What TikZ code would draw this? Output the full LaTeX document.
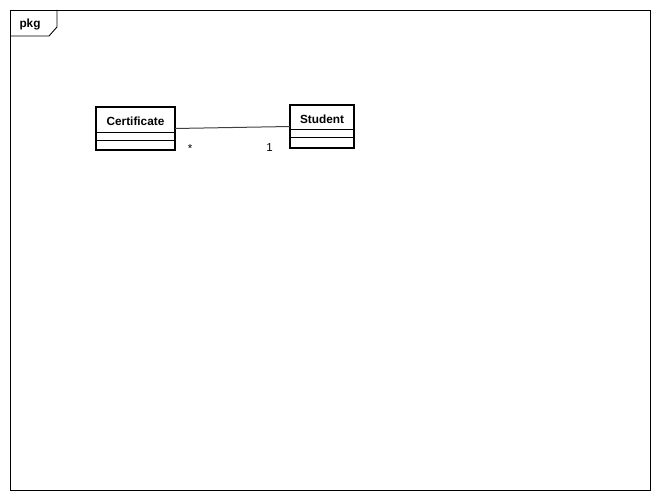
\documentclass[tikz,border=0pt]{standalone}
\usepackage{fontspec}
\setsansfont{Liberation Sans}
\usepackage{tikz}
\usetikzlibrary{positioning}

\begin{document}
\begin{tikzpicture}[
    x=1pt, y=-1pt,
    frame/.style={draw, line width=0.9pt},
    cls/.style={draw, line width=1.8pt, outer sep=0pt, inner sep=0pt},
    cname/.style={inner sep=0pt, font=\sffamily\bfseries\fontsize{11.8}{14}\selectfont},
    sep/.style={line width=1pt},
    assoc/.style={line width=1pt, black!75},
    mult/.style={inner sep=0pt, font=\sffamily\fontsize{11.5}{14}\selectfont},
  ]
    \useasboundingbox (0,0) rectangle (660,500);

    % === Package frame with name tab ===
    \draw[frame] (10,10) rectangle (650,490);
    \draw[frame] (10,36) -- (49,36) -- (57,27) -- (57,10);
    \node[cname] (pkg) at (30,24) {pkg};

    % === Classes ===
    \node[cls, minimum width=79pt, minimum height=43pt] (cert) at (135.5,128.5) {};
    \node[cname] (certn) at (135.5,121) {Certificate};
    \draw[sep] ([yshift=-25pt]cert.north west) -- ([yshift=-25pt]cert.north east);
    \draw[sep] ([yshift=-33pt]cert.north west) -- ([yshift=-33pt]cert.north east);

    \node[cls, minimum width=64pt, minimum height=43pt] (stud) at (322,126.5) {};
    \node[cname] (studn) at (322,119) {Student};
    \draw[sep] ([yshift=-24pt]stud.north west) -- ([yshift=-24pt]stud.north east);
    \draw[sep] ([yshift=-32pt]stud.north west) -- ([yshift=-32pt]stud.north east);

    % === Association with multiplicities ===
    \draw[assoc] (cert.east) -- (stud.west);
    \node[mult] (mcert) at (190,149) {*};
    \node[mult] (mstud) at (269.5,147.5) {1};
\end{tikzpicture}
\end{document}
